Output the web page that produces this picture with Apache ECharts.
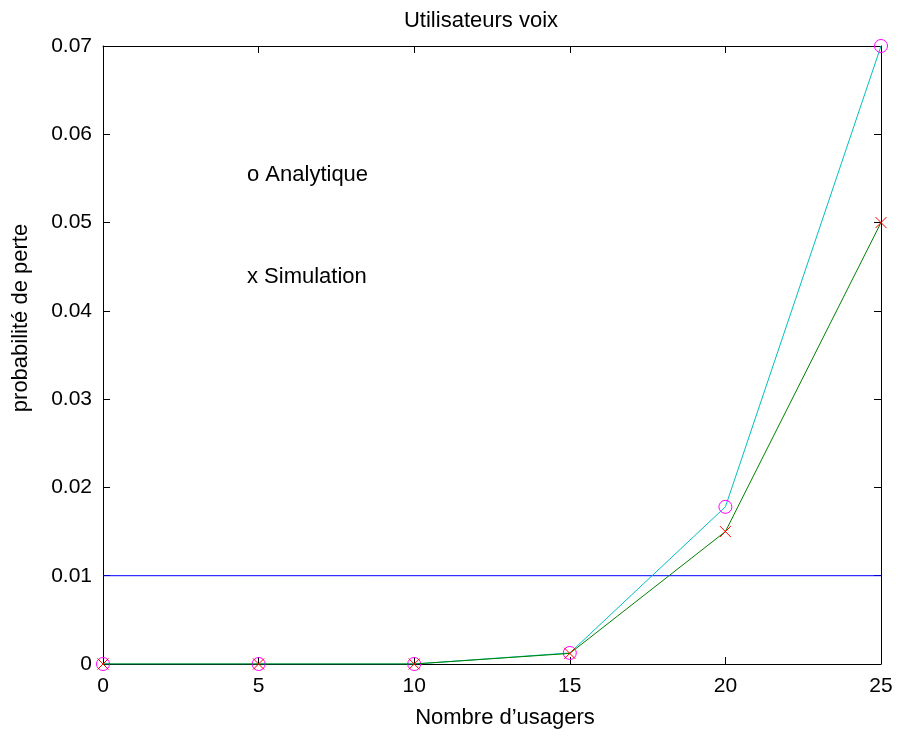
<!DOCTYPE html>
<html><head><meta charset="utf-8">
<script src="https://cdn.jsdelivr.net/npm/echarts@6/dist/echarts.min.js"></script>
<style>html,body{margin:0;padding:0;background:#fff}#c{width:899px;height:736px}</style>
</head><body><div id="c"></div>
<script>
const users = [0, 5, 10, 15, 20, 25];
const analytique = [0, 0, 0, 0.00125, 0.0178, 0.07];
const simulation = [0, 0, 0, 0.0012, 0.015, 0.05];
const threshold = 0.01;
const xTicks = [0, 5, 10, 15, 20, 25];
const yTicks = [0, 0.01, 0.02, 0.03, 0.04, 0.05, 0.06, 0.07];

const FONT = 'Liberation Sans, Arial, sans-serif';
const chart = echarts.init(document.getElementById('c'), null, {renderer: 'canvas'});
const axisCommon = {
  axisLine: {show: true, onZero: false, lineStyle: {color: '#000', width: 1}},
  axisTick: {show: true, inside: true, length: 7, lineStyle: {color: '#000'}},
  splitLine: {show: false}
};
chart.setOption({
  animation: false,
  backgroundColor: '#fff',
  grid: {left: 103, right: 18, top: 46, bottom: 72},
  xAxis: [
    Object.assign({type: 'value', min: xTicks[0], max: xTicks[xTicks.length - 1], interval: 5,
      axisLabel: {fontFamily: FONT, fontSize: 21, color: '#000', margin: 12}}, axisCommon),
    Object.assign({type: 'value', position: 'top', min: xTicks[0], max: xTicks[xTicks.length - 1], interval: 5,
      axisLabel: {show: false}}, axisCommon)
  ],
  yAxis: [
    Object.assign({type: 'value', min: yTicks[0], max: yTicks[yTicks.length - 1], interval: 0.01,
      axisLabel: {fontFamily: FONT, fontSize: 21, color: '#000', margin: 11,
        formatter: v => v === 0 ? '0' : v.toFixed(2)}}, axisCommon),
    Object.assign({type: 'value', position: 'right', min: yTicks[0], max: yTicks[yTicks.length - 1], interval: 0.01,
      axisLabel: {show: false}}, axisCommon)
  ],
  graphic: [
    {type: 'text', x: 481, y: 21, style: {text: 'Utilisateurs voix', font: '22px ' + FONT, fill: '#000', align: 'center', verticalAlign: 'middle'}},
    {type: 'text', x: 505, y: 718, style: {text: 'Nombre d\u2019usagers', font: '22px ' + FONT, fill: '#000', align: 'center', verticalAlign: 'middle'}},
    {type: 'text', x: 21, y: 318, rotation: Math.PI / 2, style: {text: 'probabilit\u00e9 de perte', font: '22px ' + FONT, fill: '#000', align: 'center', verticalAlign: 'middle'}},
    {type: 'text', x: 247, y: 174.5, style: {text: 'o Analytique', font: '22px ' + FONT, fill: '#000', verticalAlign: 'middle'}},
    {type: 'text', x: 247, y: 276.5, style: {text: 'x Simulation', font: '22px ' + FONT, fill: '#000', verticalAlign: 'middle'}}
  ],
  series: [
    {type: 'line', name: 'seuil', data: [[xTicks[0], threshold], [xTicks[xTicks.length - 1], threshold]],
      symbol: 'none', lineStyle: {color: '#0000FF', width: 1}, z: 1},
    {type: 'line', name: 'Simulation', data: users.map((u, i) => [u, simulation[i]]),
      symbol: 'path://M0,0L10,10M10,0L0,10', symbolSize: 11, showSymbol: true,
      lineStyle: {color: '#008000', width: 1},
      itemStyle: {color: 'rgba(0,0,0,0)', borderColor: '#FF0000', borderWidth: 1}, z: 3},
    {type: 'line', name: 'Analytique', data: users.map((u, i) => [u, analytique[i]]),
      symbol: 'circle', symbolSize: 13, showSymbol: true,
      lineStyle: {color: '#00BFBF', width: 1},
      itemStyle: {color: 'rgba(0,0,0,0)', borderColor: '#FF00FF', borderWidth: 1}, z: 2}
  ]
});
</script></body></html>
